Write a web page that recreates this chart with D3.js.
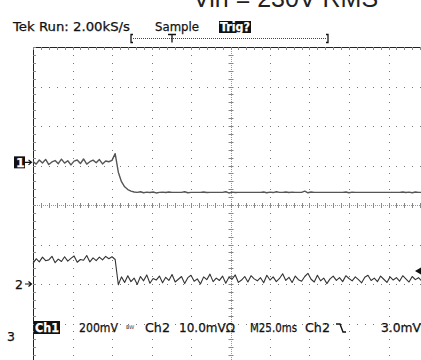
<!DOCTYPE html>
<html>
<head>
<meta charset="utf-8">
<script src="https://cdn.jsdelivr.net/npm/d3@7"></script>
<style>
  html, body { margin: 0; padding: 0; background: #fff; }
  svg { display: block; }
  .scope { font-family: "DejaVu Sans", sans-serif; font-size: 12.5px; fill: #111; stroke: #111; stroke-width: 0.25px; }
  .inv { fill: #fff; stroke: #fff; font-weight: bold; }
</style>
</head>
<body>
<svg id="chart" width="421" height="360"></svg>
<script>
// Acquisition settings shown in the readout
const titleText = "Vin = 230V RMS";
const statusItems = ["Tek Run: 2.00kS/s", "Sample"];
const trigStatus = "Trig?";
const readoutItems = ["200mV", "Ch2", "10.0mV\u03A9", "M25.0ms", "Ch2", "3.0mV"];

const timePerDivMs = 25;          // horizontal: 25 ms/div, 10 divisions
const ch1VoltsPerDiv = 200;       // mV/div
const ch2VoltsPerDiv = 10;        // mV/div
const ch1PositionDiv = 1.08;      // ground marker offset (divisions above centre)
const ch2PositionDiv = -2.0;
const sampleStepMs = 2;

// Channel 1 (mV), one sample every 2 ms from 0 ms
const ch1Pre = [4, -9, 12, -3, 15, -11, 2, 9, -7, 16, -4, 8, -13, 6, 12, -6, 17, -9, 3, 11, -2, 14, -8, 7, 3];
const ch1Edge = [10, 44, -50, -98, -124, -138, -146, -150];
const ch1Post = [
  -152, -149, -154, -151, -153, -150, -155, -152, -151, -153, -150, -152, -152, -152, -152, -149, -154, -152, -152, -152,
  -152, -150, -153, -152, -152, -152, -152, -152, -149, -155, -151, -153, -152, -152, -152, -152, -152, -152, -152, -152,
  -150, -154, -151, -153, -149, -152, -152, -150, -153, -151, -152, -152, -152, -146, -154, -150, -152, -152, -152, -152,
  -152, -152, -152, -152, -152, -152, -150, -154, -151, -152, -152, -152, -152, -152, -152, -152, -152, -152, -152, -152,
  -152, -152, -152, -152, -150, -153, -151, -154, -150, -152, -152, -152, -152
];

// Channel 2 (mV), same sample clock
const ch2Pre = [5.2, 6.4, 5.6, 6.8, 5.9, 6.1, 7.0, 5.4, 6.3, 5.7, 6.9, 5.8, 6.5, 7.1, 5.5, 6.2, 6.0, 7.2, 5.6, 6.6, 5.9, 6.8, 6.1, 7.0, 6.4, 6.9, 6.2];
const ch2Post = [
  -0.2, 1.8, 0.4, 2.1, 0.6, 1.5, -0.1, 1.9, 0.8, 2.3, 0.2, 1.4, 1.0, 2.0, 0.3, 1.7, 0.9, 2.4, 0.5, 1.2,
  1.9, 0.1, 1.6, 2.2, 0.7, 1.3, 0.0, 1.8, 1.1, 2.5, 0.6, 1.5, 0.9, 2.0, 0.2, 1.7, 1.2, 2.3, 0.4, 1.0,
  1.9, 0.5, 2.1, 1.3, 0.8, 1.6, 0.3, 2.2, 1.0, 1.8, 0.6, 1.4, 2.6, 0.9, 1.7, 0.4, 2.0, 1.1, 0.7, 1.9,
  2.7, 1.2, 0.5, 2.2, 0.8, 1.5, 0.1, 1.3, 2.0, 0.9, 1.6, 0.6, 2.1, 1.4, 0.8, 1.8, 1.1, 0.3, 1.7, 2.2,
  0.9, 1.5, 0.6, 2.0, 1.2, 0.4, 1.8, 1.0, 1.6, 0.7, 2.1, 1.3, 0.5, 1.9, 1.1, 1.6, 0.8, 2.0, 1.4
];

const ch1Samples = ch1Pre.concat(ch1Edge, ch1Post);
const ch2Samples = ch2Pre.concat(ch2Post);

// ---- screen geometry ----
const gx0 = 33, gy0 = 47, divPx = 39.5;
const nx = 10, ny = 8;
const gx1 = gx0 + nx * divPx, gy1 = gy0 + ny * divPx;

const svg = d3.select("#chart");

const x = d3.scaleLinear().domain([0, nx * timePerDivMs]).range([gx0, gx1]);
const yDiv = d3.scaleLinear().domain([-ny / 2, ny / 2]).range([gy1, gy0]);
const y1 = d3.scaleLinear()
  .domain([(-ny / 2 - ch1PositionDiv) * ch1VoltsPerDiv, (ny / 2 - ch1PositionDiv) * ch1VoltsPerDiv])
  .range([gy1, gy0]);
const y2 = d3.scaleLinear()
  .domain([(-ny / 2 - ch2PositionDiv) * ch2VoltsPerDiv, (ny / 2 - ch2PositionDiv) * ch2VoltsPerDiv])
  .range([gy1, gy0]);

const grid = svg.append("g");
const minorT = d3.range(0, nx * timePerDivMs + 0.01, timePerDivMs / 5);
const minorV = d3.range(-ny / 2, ny / 2 + 0.01, 0.2);
const majorT = d3.range(timePerDivMs, nx * timePerDivMs, timePerDivMs);
const majorV = d3.range(-ny / 2 + 1, ny / 2, 1);

// dotted graticule lines (dots every 1/5 division)
majorT.filter(t => t !== 125).forEach(t => {
  grid.selectAll(null).data(minorV).join("rect")
    .attr("x", Math.round(x(t))).attr("y", d => Math.round(yDiv(d)))
    .attr("width", 1).attr("height", 1).attr("fill", "#777");
});
majorV.filter(v => v !== 0).forEach(v => {
  grid.selectAll(null).data(minorT).join("rect")
    .attr("x", d => Math.round(x(d))).attr("y", Math.round(yDiv(v)))
    .attr("width", 1).attr("height", 1).attr("fill", "#777");
});

// centre cross with fine dots and minor ticks
grid.append("line").attr("x1", gx0).attr("x2", gx1).attr("y1", yDiv(0) + 0.5).attr("y2", yDiv(0) + 0.5)
  .attr("stroke", "#999").attr("stroke-dasharray", "1,1");
grid.append("line").attr("x1", Math.round(x(125)) + 0.5).attr("x2", Math.round(x(125)) + 0.5).attr("y1", gy0).attr("y2", gy1)
  .attr("stroke", "#999").attr("stroke-dasharray", "1,1");
grid.selectAll(null).data(minorT).join("line")
  .attr("x1", d => Math.round(x(d)) + 0.5).attr("x2", d => Math.round(x(d)) + 0.5)
  .attr("y1", yDiv(0) - 2).attr("y2", yDiv(0) + 3).attr("stroke", "#888");
grid.selectAll(null).data(minorV).join("line")
  .attr("y1", d => Math.round(yDiv(d)) + 0.5).attr("y2", d => Math.round(yDiv(d)) + 0.5)
  .attr("x1", x(125) - 2).attr("x2", x(125) + 3).attr("stroke", "#888");

// frame edges with ticks
grid.append("line").attr("x1", gx0).attr("x2", gx1).attr("y1", gy0 + 0.5).attr("y2", gy0 + 0.5).attr("stroke", "#222");
grid.append("line").attr("x1", gx0 + 0.5).attr("x2", gx0 + 0.5).attr("y1", gy0).attr("y2", gy1).attr("stroke", "#222");
grid.selectAll(null).data(minorT).join("line")
  .attr("x1", d => Math.round(x(d)) + 0.5).attr("x2", d => Math.round(x(d)) + 0.5)
  .attr("y1", gy0).attr("y2", gy0 + 3).attr("stroke", "#888");
grid.selectAll(null).data(minorV).join("line")
  .attr("y1", d => Math.round(yDiv(d)) + 0.5).attr("y2", d => Math.round(yDiv(d)) + 0.5)
  .attr("x1", gx0).attr("x2", gx0 + 3).attr("stroke", "#888");

// ---- traces ----
const line1 = d3.line().x((d, i) => x(i * sampleStepMs)).y(d => y1(d));
const line2 = d3.line().x((d, i) => x(i * sampleStepMs)).y(d => y2(d));
svg.append("path").datum(ch1Samples).attr("d", line1)
  .attr("fill", "none").attr("stroke", "#555").attr("stroke-width", 1.4).attr("stroke-linejoin", "round");
svg.append("path").datum(ch2Samples).attr("d", line2)
  .attr("fill", "none").attr("stroke", "#333").attr("stroke-width", 1.1).attr("stroke-linejoin", "round");

// ---- channel ground markers ----
const m1 = y1(0), m2 = y2(0);
svg.append("rect").attr("x", 14).attr("y", m1 - 6).attr("width", 11).attr("height", 12).attr("fill", "#111");
svg.append("text").attr("class", "scope inv").attr("x", 16).attr("y", m1 + 4.5).text("1");
svg.append("text").attr("class", "scope").attr("x", 15).attr("y", m2 + 4.5).text("2");
[m1, m2].forEach(m => {
  svg.append("path").attr("d", `M25,${m}H31M28.5,${m - 2.5}L31.5,${m}L28.5,${m + 2.5}`)
    .attr("fill", "none").attr("stroke", "#111").attr("stroke-width", 1.2);
});
svg.append("text").attr("class", "scope").attr("x", 7).attr("y", 341).text("3");

// trigger level marker on the right edge
svg.append("path").attr("d", "M415,271L421,267.5L421,274.5Z").attr("fill", "#111");

// ---- title and status line ----
svg.append("text").attr("x", 193).attr("y", 6.5)
  .style("font-family", "'Liberation Sans', Arial, sans-serif").style("font-size", "25px").style("fill", "#222")
  .text(titleText);
svg.append("text").attr("class", "scope").attr("x", 13).attr("y", 31)
  .attr("textLength", 117).attr("lengthAdjust", "spacingAndGlyphs").text(statusItems[0]);
svg.append("text").attr("class", "scope").attr("x", 155).attr("y", 31)
  .attr("textLength", 44).attr("lengthAdjust", "spacingAndGlyphs").text(statusItems[1]);
svg.append("rect").attr("x", 219).attr("y", 21).attr("width", 32).attr("height", 12).attr("fill", "#111");
svg.append("text").attr("class", "scope inv").attr("x", 220).attr("y", 31)
  .attr("textLength", 30).attr("lengthAdjust", "spacingAndGlyphs").text(trigStatus);

// record window bracket and trigger position
const by = 38.5;
svg.append("line").attr("x1", 133).attr("x2", 327).attr("y1", by).attr("y2", by)
  .attr("stroke", "#444").attr("stroke-dasharray", "1,1");
svg.append("path").attr("d", `M133,${by - 4}H131V${by + 4}H133M326,${by - 4}H328V${by + 4}H326`)
  .attr("fill", "none").attr("stroke", "#111").attr("stroke-width", 1.3);
svg.append("path").attr("d", `M168,${by - 4}H176M172,${by - 4}V${by + 4}`)
  .attr("fill", "none").attr("stroke", "#111").attr("stroke-width", 1.3);

// ---- bottom readout ----
const ry = 332;
svg.append("rect").attr("x", 34).attr("y", ry - 11).attr("width", 26).attr("height", 13).attr("fill", "#111");
svg.append("text").attr("class", "scope inv").attr("x", 35).attr("y", ry)
  .attr("textLength", 24).attr("lengthAdjust", "spacingAndGlyphs").text("Ch1");
const readoutX = [79, 145, 179, 250, 305, 381];
const readoutW = [39, 25, 56, 47, 25, 40];
readoutItems.forEach((s, i) => {
  svg.append("text").attr("class", "scope").attr("x", readoutX[i]).attr("y", ry)
    .attr("textLength", readoutW[i]).attr("lengthAdjust", "spacingAndGlyphs").text(s);
});
svg.append("text").attr("x", 126).attr("y", ry - 3).style("font-family", "'DejaVu Sans'").style("font-size", "5px")
  .style("fill", "#333").text("BW");
// falling-edge trigger slope symbol
svg.append("path").attr("d", `M336,${ry - 8}H340L343,${ry}H346`)
  .attr("fill", "none").attr("stroke", "#111").attr("stroke-width", 1.4);
</script>
</body>
</html>
